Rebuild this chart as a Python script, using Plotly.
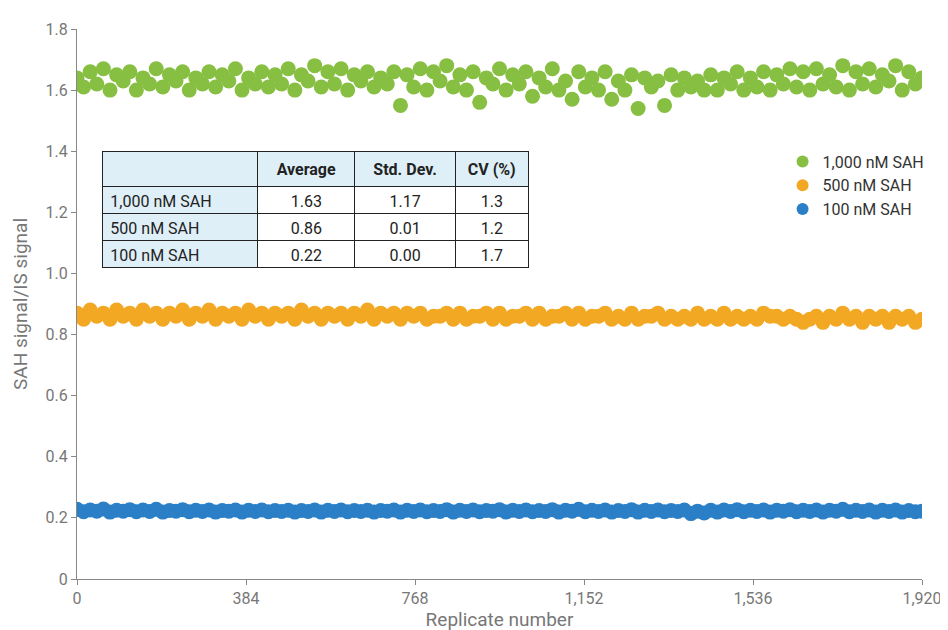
import plotly.graph_objects as go

replicates = list(range(0, 1921, 15))
green = [1.64,1.61,1.66,1.62,1.67,1.60,1.65,1.63,1.66,1.60,1.64,1.62,1.67,1.61,1.65,1.63,
         1.66,1.60,1.64,1.62,1.66,1.61,1.65,1.63,1.67,1.60,1.64,1.62,1.66,1.61,1.65,1.62,
         1.67,1.60,1.65,1.63,1.68,1.61,1.66,1.62,1.67,1.60,1.65,1.63,1.66,1.61,1.64,1.62,
         1.66,1.55,1.65,1.61,1.67,1.60,1.66,1.63,1.68,1.61,1.65,1.60,1.66,1.56,1.64,1.62,
         1.67,1.60,1.65,1.62,1.66,1.58,1.64,1.61,1.67,1.60,1.63,1.57,1.66,1.61,1.64,1.60,
         1.66,1.57,1.63,1.60,1.65,1.54,1.64,1.61,1.63,1.55,1.65,1.60,1.64,1.61,1.63,1.60,
         1.65,1.60,1.64,1.62,1.66,1.60,1.64,1.61,1.66,1.60,1.65,1.62,1.67,1.61,1.66,1.60,
         1.67,1.62,1.65,1.61,1.68,1.60,1.66,1.62,1.67,1.61,1.65,1.63,1.68,1.60,1.66,1.62,1.64]
orange = [0.87,0.85,0.88,0.86,0.87,0.85,0.88,0.86,0.87,0.85,0.88,0.86,0.87,0.85,0.87,0.86,
          0.88,0.85,0.87,0.86,0.88,0.85,0.87,0.86,0.87,0.85,0.88,0.86,0.87,0.85,0.87,0.86,
          0.87,0.85,0.88,0.86,0.87,0.85,0.87,0.86,0.87,0.85,0.87,0.86,0.88,0.85,0.87,0.86,
          0.87,0.85,0.87,0.86,0.87,0.85,0.86,0.86,0.87,0.85,0.87,0.85,0.86,0.86,0.87,0.85,
          0.87,0.85,0.86,0.86,0.87,0.85,0.87,0.85,0.86,0.86,0.87,0.85,0.87,0.85,0.86,0.86,
          0.87,0.85,0.86,0.85,0.87,0.85,0.86,0.86,0.87,0.85,0.86,0.85,0.86,0.85,0.87,0.85,
          0.86,0.85,0.87,0.85,0.86,0.85,0.86,0.85,0.87,0.86,0.86,0.85,0.86,0.85,0.84,0.85,
          0.86,0.84,0.86,0.85,0.87,0.85,0.86,0.84,0.86,0.85,0.86,0.84,0.86,0.85,0.86,0.84,0.85]
blue = [0.228,0.220,0.226,0.222,0.229,0.219,0.225,0.222,0.227,0.220,0.226,0.221,0.228,0.219,0.224,0.222,
        0.227,0.220,0.225,0.221,0.226,0.219,0.224,0.222,0.226,0.219,0.225,0.221,0.226,0.220,0.224,0.221,
        0.225,0.219,0.224,0.221,0.226,0.219,0.225,0.221,0.226,0.220,0.224,0.221,0.225,0.219,0.224,0.222,
        0.226,0.219,0.225,0.221,0.226,0.220,0.224,0.221,0.227,0.219,0.225,0.221,0.226,0.220,0.224,0.222,
        0.227,0.219,0.225,0.221,0.226,0.220,0.224,0.221,0.227,0.219,0.225,0.222,0.228,0.220,0.225,0.221,
        0.226,0.219,0.224,0.221,0.227,0.219,0.225,0.221,0.226,0.220,0.224,0.221,0.226,0.214,0.222,0.216,
        0.225,0.219,0.226,0.221,0.227,0.220,0.225,0.221,0.226,0.219,0.225,0.222,0.227,0.220,0.225,0.221,
        0.226,0.219,0.225,0.222,0.228,0.220,0.225,0.221,0.226,0.219,0.225,0.221,0.226,0.219,0.224,0.220,0.222]

series = [("1,000 nM SAH", green, "#86bf41"), ("500 nM SAH", orange, "#f2a823"), ("100 nM SAH", blue, "#2a7fc6")]

tbl_header = ["", "<b>Average</b>", "<b>Std. Dev.</b>", "<b>CV (%)</b>"]
tbl_rows = ["1,000 nM SAH", "500 nM SAH", "100 nM SAH"]
tbl_avg = ["1.63", "0.86", "0.22"]
tbl_sd = ["1.17", "0.01", "0.00"]
tbl_cv = ["1.3", "1.2", "1.7"]

ytick_vals = [0, 0.2, 0.4, 0.6, 0.8, 1.0, 1.2, 1.4, 1.6, 1.8]
ytick_text = ["0", "0.2", "0.4", "0.6", "0.8", "1.0", "1.2", "1.4", "1.6", "1.8"]

fig = go.Figure()
for name, vals, col in series:
    fig.add_trace(go.Scatter(x=replicates, y=vals, name=name, mode="markers",
                             marker=dict(color=col, size=15, line=dict(width=0))))

lb = "#dfeff8"
fig.add_trace(go.Table(
    domain=dict(x=[0.030, 0.535], y=[0.50, 0.777]),
    columnwidth=[155, 97, 100, 73],
    header=dict(values=tbl_header, fill_color=lb, line_color="#222", height=27,
                font=dict(family="Roboto", size=16, color="#222"), align="center"),
    cells=dict(values=[tbl_rows, tbl_avg, tbl_sd, tbl_cv],
               fill_color=[[lb]*3, ["white"]*3, ["white"]*3, ["white"]*3],
               line_color="#222", height=27, align=["left", "center", "center", "center"],
               font=dict(family="Roboto", size=16, color="#222"))))

axc = "#888"
fig.update_layout(
    width=948, height=630, margin=dict(l=69, r=34, t=13, b=56),
    plot_bgcolor="white", paper_bgcolor="white",
    font=dict(family="Roboto", size=16, color="#777"),
    showlegend=True,
    legend=dict(x=0.835, y=0.79, xanchor="left", yanchor="top", traceorder="normal",
                font=dict(size=16, color="#333"), itemsizing="constant"),
    xaxis=dict(range=[0, 1920], tickvals=[0, 384, 768, 1152, 1536, 1920], tickformat=",",
               showgrid=False, showline=True, linecolor=axc, ticks="outside", tickcolor=axc,
               zeroline=False, title=dict(text="Replicate number", standoff=4)),
    yaxis=dict(range=[0, 1.8], tickvals=ytick_vals, ticktext=ytick_text, showgrid=False, showline=True,
               linecolor=axc, ticks="outside", tickcolor=axc, zeroline=False,
               title=dict(text="SAH signal/IS signal", standoff=12)),
)
fig.write_html("out.html")
